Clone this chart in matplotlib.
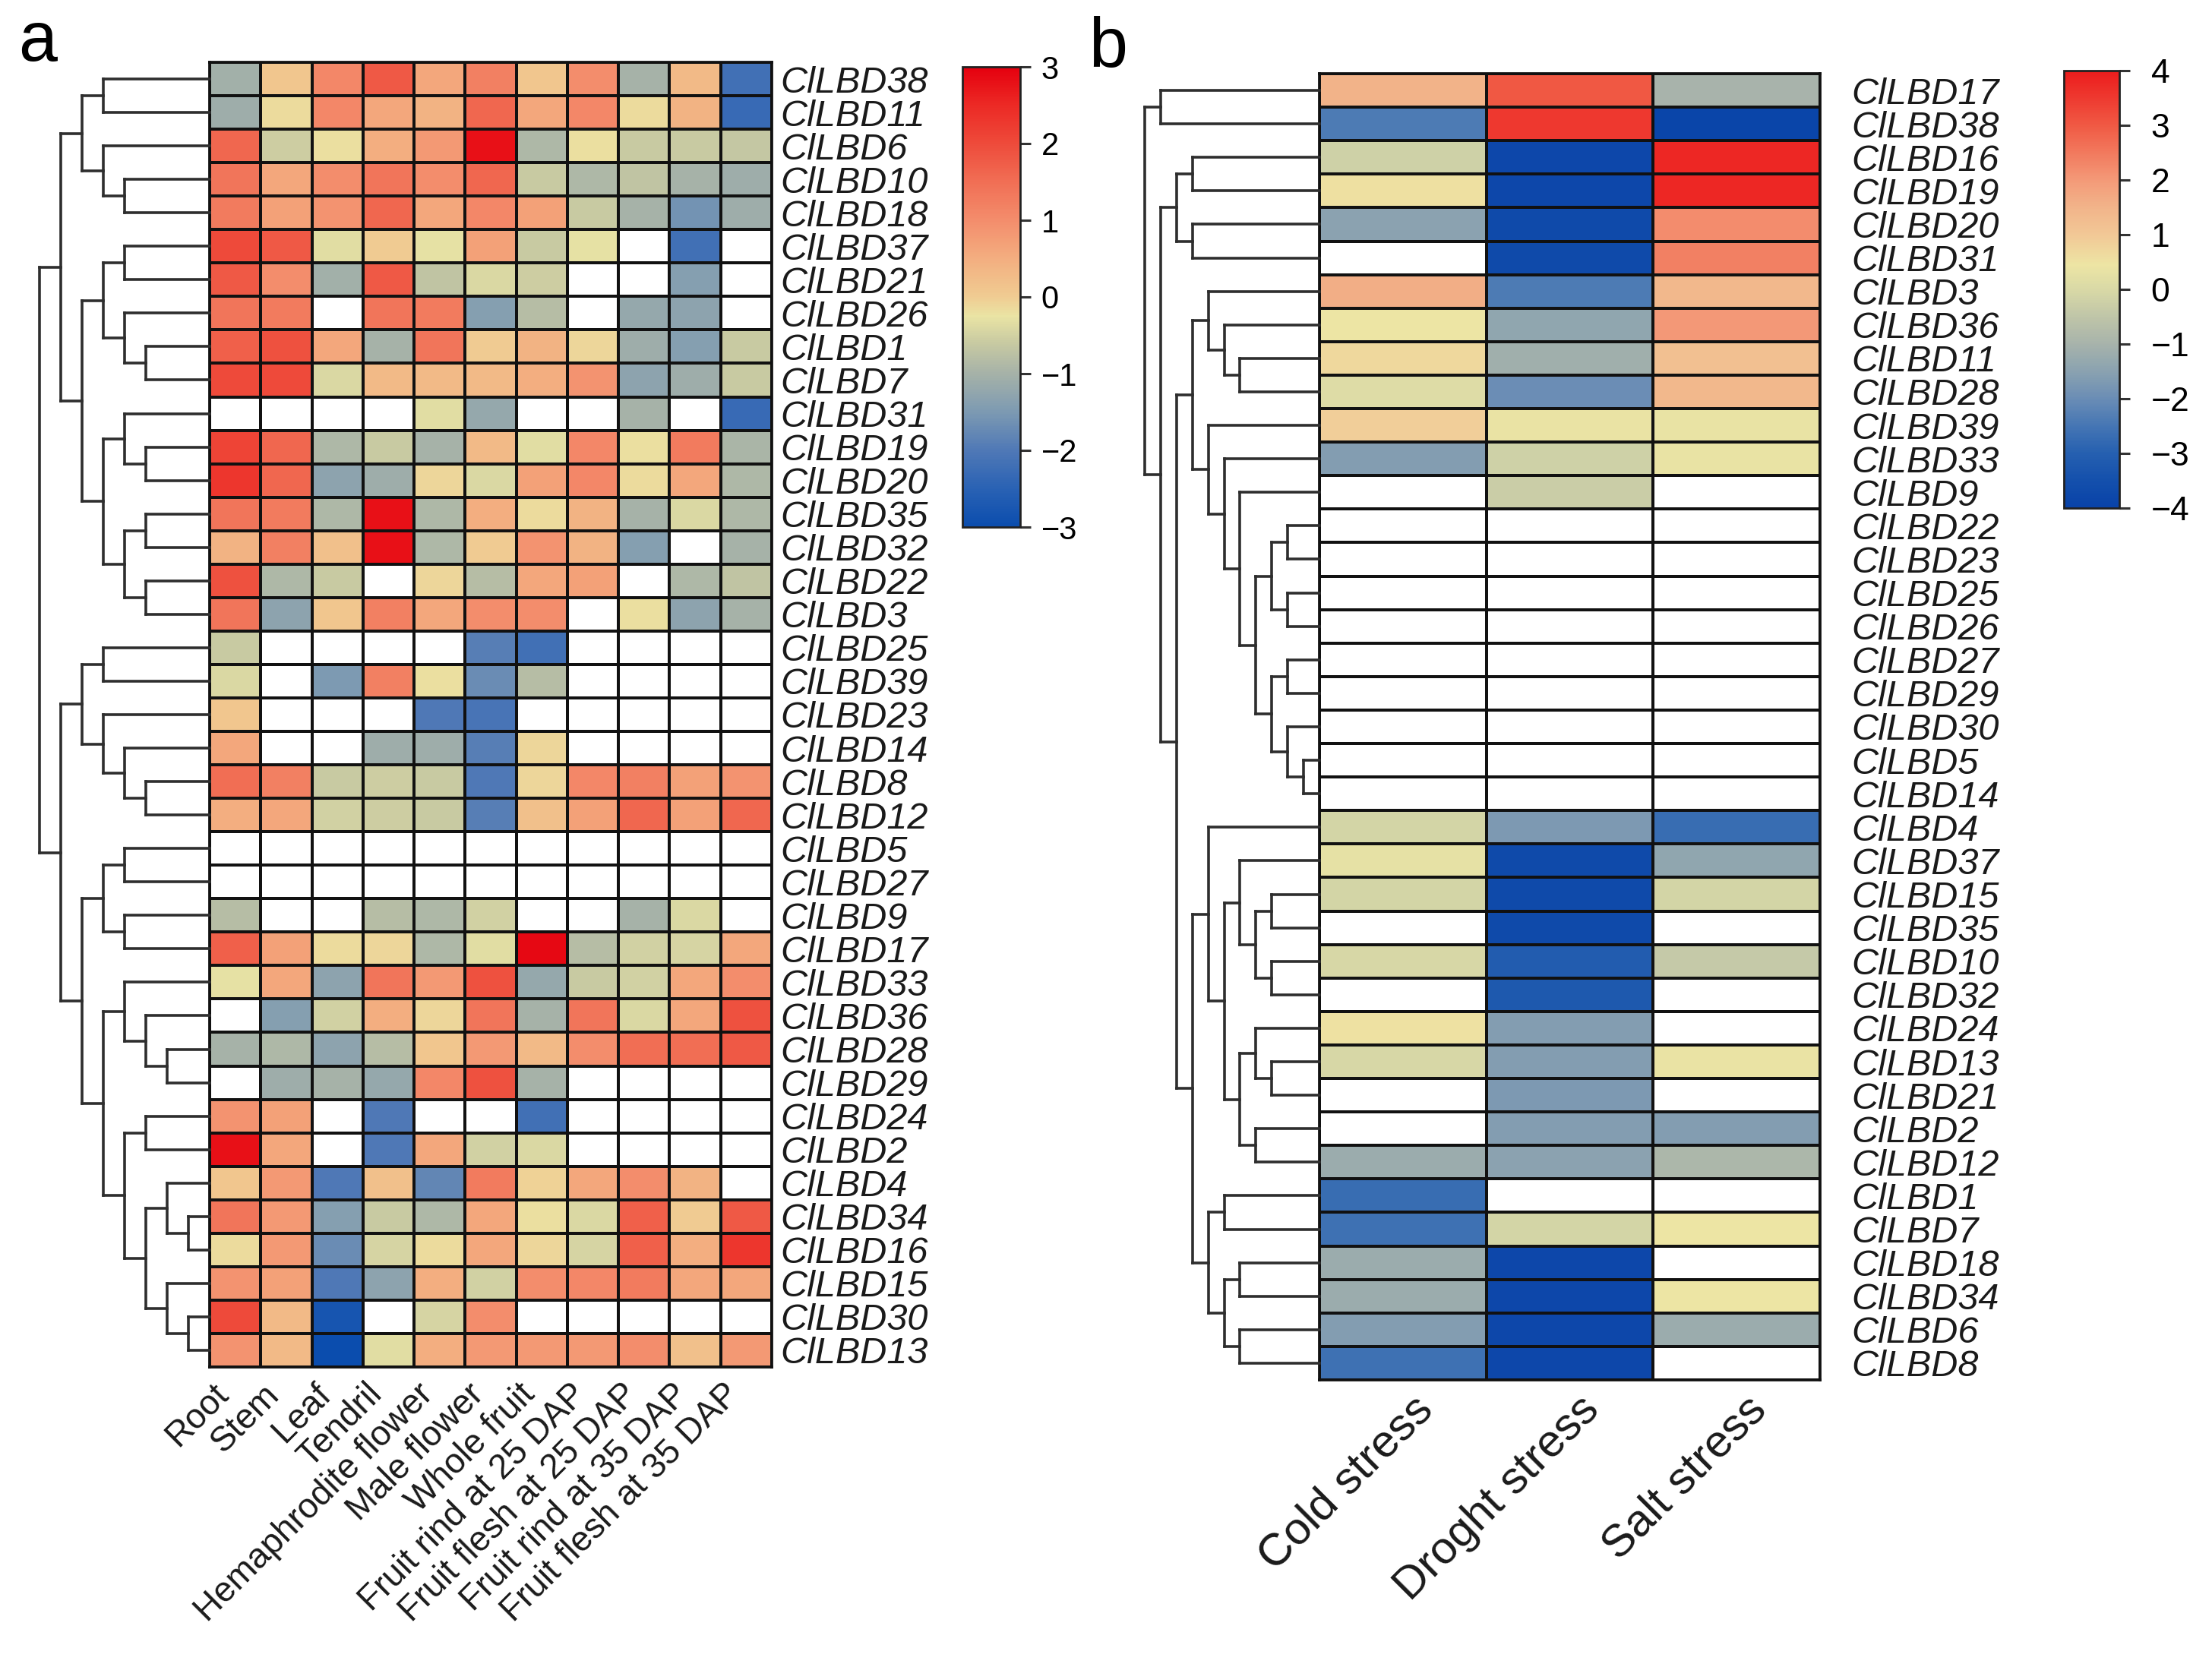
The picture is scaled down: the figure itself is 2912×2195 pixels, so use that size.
import numpy as np
import matplotlib
matplotlib.use('Agg')
import matplotlib.pyplot as plt
import matplotlib.transforms as mtransforms
from matplotlib.colors import LinearSegmentedColormap, Normalize

plt.rcParams['font.family'] = ['Liberation Sans', 'DejaVu Sans']
nan = np.nan

# ---------------- panel a data ----------------
tissues = ['Root', 'Stem', 'Leaf', 'Tendril', 'Hemaphrodite flower', 'Male flower',
           'Whole fruit', 'Fruit rind at 25 DAP', 'Fruit flesh at 25 DAP',
           'Fruit rind at 35 DAP', 'Fruit flesh at 35 DAP']
genes_a = ['ClLBD38', 'ClLBD11', 'ClLBD6', 'ClLBD10', 'ClLBD18', 'ClLBD37', 'ClLBD21',
           'ClLBD26', 'ClLBD1', 'ClLBD7', 'ClLBD31', 'ClLBD19', 'ClLBD20', 'ClLBD35',
           'ClLBD32', 'ClLBD22', 'ClLBD3', 'ClLBD25', 'ClLBD39', 'ClLBD23', 'ClLBD14',
           'ClLBD8', 'ClLBD12', 'ClLBD5', 'ClLBD27', 'ClLBD9', 'ClLBD17', 'ClLBD33',
           'ClLBD36', 'ClLBD28', 'ClLBD29', 'ClLBD24', 'ClLBD2', 'ClLBD4', 'ClLBD34',
           'ClLBD16', 'ClLBD15', 'ClLBD30', 'ClLBD13']
expr_a = [
    [-1.05, 0.1, 1.1, 1.8, 0.6, 1.2, 0.1, 1.0, -1.0, 0.3, -2.2],
    [-1.1, -0.15, 1.1, 0.6, 0.4, 1.6, 0.6, 1.1, -0.15, 0.4, -2.3],
    [1.6, -0.55, -0.2, 0.5, 0.8, 2.8, -0.9, -0.2, -0.6, -0.6, -0.65],
    [1.4, 0.6, 1.0, 1.4, 1.0, 1.6, -0.6, -0.9, -0.7, -1.0, -1.1],
    [1.3, 0.7, 0.9, 1.6, 0.6, 1.1, 0.7, -0.6, -1.0, -1.6, -1.1],
    [2.0, 1.8, -0.35, 0.0, -0.3, 0.7, -0.6, -0.3, nan, -2.2, nan],
    [1.8, 1.0, -1.05, 1.8, -0.7, -0.4, -0.55, nan, nan, -1.4, nan],
    [1.4, 1.3, nan, 1.4, 1.3, -1.4, -0.8, nan, -1.2, -1.3, nan],
    [1.7, 1.9, 0.6, -1.0, 1.4, 0.0, 0.4, -0.1, -1.1, -1.4, -0.6],
    [2.0, 2.0, -0.4, 0.3, 0.3, 0.3, 0.5, 0.9, -1.3, -1.1, -0.6],
    [nan, nan, nan, nan, -0.35, -1.2, nan, nan, -1.0, nan, -2.3],
    [2.1, 1.6, -0.9, -0.6, -1.0, 0.3, -0.35, 1.1, -0.2, 1.3, -0.95],
    [2.3, 1.6, -1.3, -1.1, -0.1, -0.4, 0.7, 1.1, -0.15, 0.6, -0.9],
    [1.4, 1.3, -0.9, 2.8, -0.9, 0.5, -0.15, 0.4, -1.0, -0.4, -0.9],
    [0.4, 1.2, 0.2, 2.8, -0.9, 0.0, 0.9, 0.4, -1.4, nan, -1.0],
    [1.9, -0.9, -0.6, nan, -0.1, -0.8, 0.6, 0.7, nan, -0.9, -0.7],
    [1.4, -1.3, 0.1, 1.2, 0.6, 1.0, 1.0, nan, -0.2, -1.3, -1.0],
    [-0.6, nan, nan, nan, nan, -1.9, -2.2, nan, nan, nan, nan],
    [-0.4, nan, -1.5, 1.2, -0.2, -1.7, -0.8, nan, nan, nan, nan],
    [0.1, nan, nan, nan, -2.0, -2.1, nan, nan, nan, nan, nan],
    [0.6, nan, nan, -1.1, -1.1, -1.9, -0.1, nan, nan, nan, nan],
    [1.5, 1.2, -0.6, -0.55, -0.6, -2.0, -0.1, 1.1, 1.2, 0.7, 0.9],
    [0.5, 0.6, -0.5, -0.55, -0.6, -1.9, 0.2, 0.7, 1.6, 0.7, 1.6],
    [nan, nan, nan, nan, nan, nan, nan, nan, nan, nan, nan],
    [nan, nan, nan, nan, nan, nan, nan, nan, nan, nan, nan],
    [-0.8, nan, nan, -0.8, -0.9, -0.5, nan, nan, -1.0, -0.4, nan],
    [1.7, 0.7, -0.15, -0.1, -0.9, -0.35, 2.9, -0.8, -0.5, -0.45, 0.6],
    [-0.3, 0.6, -1.3, 1.4, 0.8, 1.9, -1.2, -0.6, -0.5, 0.6, 1.0],
    [nan, -1.4, -0.5, 0.5, -0.1, 1.4, -1.0, 1.4, -0.4, 0.6, 1.9],
    [-1.0, -0.9, -1.3, -0.8, 0.1, 0.8, 0.3, 1.0, 1.5, 1.5, 1.8],
    [nan, -1.1, -1.0, -1.2, 1.1, 1.9, -1.0, nan, nan, nan, nan],
    [0.9, 0.7, nan, -2.0, nan, nan, -2.2, nan, nan, nan, nan],
    [2.8, 0.6, nan, -2.0, 0.6, -0.5, -0.4, nan, nan, nan, nan],
    [0.1, 0.8, -2.0, 0.2, -1.8, 1.3, -0.05, 0.6, 1.0, 0.4, nan],
    [1.4, 0.8, -1.4, -0.6, -0.9, 0.6, -0.2, -0.4, 1.7, 0.0, 1.8],
    [-0.15, 0.8, -1.7, -0.45, -0.15, 0.6, -0.1, -0.45, 1.7, 0.5, 2.3],
    [0.9, 0.7, -2.0, -1.3, 0.5, -0.5, 1.0, 1.1, 1.3, 0.6, 0.6],
    [2.0, 0.3, -2.8, nan, -0.45, 1.0, nan, nan, nan, nan, nan],
    [0.9, 0.3, -3.0, -0.35, 0.5, 0.8, 0.8, 0.8, 1.0, 0.2, 0.8],
]
# row clustering (leaves are row indices)
tree_a = (
    (((0, 1), (2, (3, 4))),
     (((5, 6), (7, (8, 9))), ((10, (11, 12)), ((13, 14), (15, 16))))),
    (((17, 18), (19, (20, (21, 22)))),
     (((23, 24), (25, 26)),
      ((27, (28, (29, 30))), ((31, 32), ((33, (34, 35)), (36, (37, 38)))))))
)
ticks_a = [-3, -2, -1, 0, 1, 2, 3]

# ---------------- panel b data ----------------
stresses = ['Cold stress', 'Droght stress', 'Salt stress']
genes_b = ['ClLBD17', 'ClLBD38', 'ClLBD16', 'ClLBD19', 'ClLBD20', 'ClLBD31', 'ClLBD3',
           'ClLBD36', 'ClLBD11', 'ClLBD28', 'ClLBD39', 'ClLBD33', 'ClLBD9', 'ClLBD22',
           'ClLBD23', 'ClLBD25', 'ClLBD26', 'ClLBD27', 'ClLBD29', 'ClLBD30', 'ClLBD5',
           'ClLBD14', 'ClLBD4', 'ClLBD37', 'ClLBD15', 'ClLBD35', 'ClLBD10', 'ClLBD32',
           'ClLBD24', 'ClLBD13', 'ClLBD21', 'ClLBD2', 'ClLBD12', 'ClLBD1', 'ClLBD7',
           'ClLBD18', 'ClLBD34', 'ClLBD6', 'ClLBD8']
expr_b = [
    [1.5, 3.0, -1.0],
    [-2.4, 3.5, -3.9],
    [-0.2, -3.8, 3.8],
    [0.55, -3.8, 3.8],
    [-1.5, -3.7, 2.2],
    [nan, -3.7, 2.4],
    [1.6, -2.4, 1.4],
    [0.45, -1.4, 2.0],
    [0.7, -1.1, 1.2],
    [0.1, -2.0, 1.4],
    [0.9, 0.4, 0.35],
    [-1.6, -0.2, 0.35],
    [nan, -0.3, nan],
    [nan, nan, nan],
    [nan, nan, nan],
    [nan, nan, nan],
    [nan, nan, nan],
    [nan, nan, nan],
    [nan, nan, nan],
    [nan, nan, nan],
    [nan, nan, nan],
    [nan, nan, nan],
    [-0.1, -1.7, -2.7],
    [0.3, -3.7, -1.4],
    [-0.1, -3.7, -0.1],
    [nan, -3.7, nan],
    [-0.05, -3.1, -0.4],
    [nan, -3.2, nan],
    [0.5, -1.6, nan],
    [-0.05, -1.6, 0.4],
    [nan, -1.7, nan],
    [nan, -1.6, -1.6],
    [-1.2, -1.5, -0.9],
    [-2.7, nan, nan],
    [-2.6, -0.1, 0.45],
    [-1.2, -3.8, nan],
    [-1.2, -3.8, 0.45],
    [-1.6, -3.8, -1.2],
    [-2.6, -3.8, nan],
]
tree_b = (
    (0, 1),
    (((2, 3), (4, 5)),
     (((6, (7, (8, 9))),
       (10, (11, (12, (((13, 14), (15, 16)), ((17, 18), (19, (20, 21)))))))),
      ((22, ((23, ((24, 25), (26, 27))), ((28, (29, 30)), (31, 32)))),
       ((33, 34), ((35, 36), (37, 38))))))
)
ticks_b = [-4, -3, -2, -1, 0, 1, 2, 3, 4]

# ---------------- colour maps ----------------
cmap_a_nodes = [(-3, '#0B4DAE'), (-2.5, '#2A62B4'), (-2, '#5079B6'), (-1.5, '#7D9AB2'),
                (-1, '#A6B2A8'), (-0.6, '#C8CAA2'), (-0.25, '#EAE4A4'), (0, '#F0CC92'),
                (0.5, '#F3AE80'), (1, '#F38D6C'), (1.5, '#F16F55'), (2, '#EE4B3B'),
                (2.5, '#EC2A25'), (3, '#E5000F')]
cmap_b_nodes = [(-4, '#0842A8'), (-3.5, '#1450AC'), (-3, '#2660B0'), (-2.5, '#4676B4'),
                (-2, '#6A8DB5'), (-1.5, '#8AA2B0'), (-1, '#A7B3AB'), (-0.5, '#BFC5A8'),
                (0, '#D9D9A6'), (0.45, '#EDE5A4'), (1, '#F2C896'), (1.5, '#F2B48A'),
                (2, '#F39A78'), (2.5, '#F27A5E'), (3, '#F05A44'), (3.5, '#EE3A30'),
                (4, '#EC1C1C')]


def make_cmap(nodes, name):
    lo, hi = nodes[0][0], nodes[-1][0]
    cm = LinearSegmentedColormap.from_list(
        name, [((v - lo) / (hi - lo), c) for v, c in nodes])
    return cm.with_extremes(bad='white'), lo, hi


W, H = 2912, 2195
fig = plt.figure(figsize=(W / 100, H / 100), dpi=100)
fig.patch.set_facecolor('white')


def px_axes(x0, y0, x1, y1):
    return fig.add_axes([x0 / W, 1 - y1 / H, (x1 - x0) / W, (y1 - y0) / H])


def draw_tree(ax, node, depth, leaf_level, **kw):
    if isinstance(node, int):
        return node + 0.5, leaf_level
    pts = [draw_tree(ax, ch, depth + 1, leaf_level, **kw) for ch in node]
    ys = [p[0] for p in pts]
    ax.plot([depth, depth], [min(ys), max(ys)], **kw)
    for y, x in pts:
        ax.plot([depth, x], [y, y], **kw)
    return (min(ys) + max(ys)) / 2, depth


def tree_depth(node):
    if isinstance(node, int):
        return 0
    return 1 + max(tree_depth(c) for c in node)


def heat_panel(box, dbox, cbox, data, rows, cols, tree, nodes, ticks,
               ylab_pad, xlab_size, xlab_pad, xlab_dx, cb_size, cb_pad):
    arr = np.ma.masked_invalid(np.array(data, dtype=float))
    nr, nc = arr.shape
    cm, lo, hi = make_cmap(nodes, 'c')
    ax = px_axes(*box)
    mesh = ax.pcolormesh(np.arange(nc + 1), np.arange(nr + 1), arr, cmap=cm,
                         norm=Normalize(lo, hi), edgecolors='#111111', linewidth=2.7)
    ax.set_xlim(0, nc)
    ax.set_ylim(nr, 0)
    for s in ax.spines.values():
        s.set_linewidth(2.7)
        s.set_color('#111111')
    ax.yaxis.tick_right()
    ax.set_yticks(np.arange(nr) + 0.5)
    ax.set_yticklabels(rows, fontsize=35, fontstyle='italic', color='#1a1a1a')
    ax.set_xticks(np.arange(nc) + 0.5)
    ax.set_xticklabels(cols, fontsize=xlab_size, rotation=45, ha='right',
                       va='top', color='#1a1a1a')
    ax.tick_params(axis='y', length=0, pad=ylab_pad)
    ax.tick_params(axis='x', length=0, pad=xlab_pad)
    off = mtransforms.ScaledTranslation(xlab_dx / 100, 0, fig.dpi_scale_trans)
    for lab in ax.get_xticklabels():
        lab.set_transform(lab.get_transform() + off)

    dax = px_axes(*dbox)
    lvl = tree_depth(tree)
    draw_tree(dax, tree, 0, lvl, color='#2e2e2e', lw=2.6,
              solid_capstyle='projecting', clip_on=False)
    dax.set_xlim(0, lvl)
    dax.set_ylim(nr, 0)
    dax.axis('off')

    cax = px_axes(*cbox)
    cb = fig.colorbar(mesh, cax=cax, ticks=ticks)
    cb.outline.set_linewidth(2.0)
    cb.outline.set_edgecolor('#222222')
    cax.tick_params(length=10, width=2.2, color='#333333', labelsize=cb_size,
                    pad=cb_pad)
    return ax


heat_panel((276, 82, 1016, 1800), (52, 82, 276, 1800), (1267, 88, 1343, 694),
           expr_a, genes_a, tissues, tree_a, cmap_a_nodes, ticks_a,
           ylab_pad=8, xlab_size=33, xlab_pad=10, xlab_dx=0, cb_size=30, cb_pad=10)
heat_panel((1737, 97, 2396, 1817), (1507, 97, 1737, 1817), (2717, 93, 2790, 669),
           expr_b, genes_b, stresses, tree_b, cmap_b_nodes, ticks_b,
           ylab_pad=30, xlab_size=43, xlab_pad=8, xlab_dx=50, cb_size=32, cb_pad=20)

fig.text(24 / W, 1 - 80 / H, 'a', fontsize=66, va='baseline', ha='left')
fig.text(1433 / W, 1 - 88 / H, 'b', fontsize=66, va='baseline', ha='left')

fig.savefig('out.png', dpi=100, facecolor='white')
